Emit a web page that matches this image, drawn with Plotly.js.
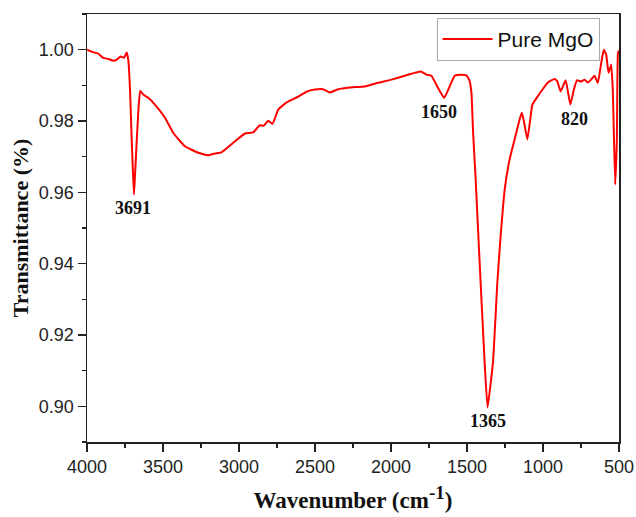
<!DOCTYPE html>
<html>
<head>
<meta charset="utf-8">
<script src="https://cdn.plot.ly/plotly-3.0.1.min.js"></script>
<style>
  html, body { margin: 0; padding: 0; background: #fff; }
  #chart { width: 636px; height: 517px; }
</style>
</head>
<body>
<div id="chart"></div>
<script>
// FTIR spectrum of pure MgO
const wavenumber = [
  4000, 3960, 3926, 3893, 3860, 3827, 3805, 3779, 3757, 3739, 3728, 3717, 3706, 3697, 3691,
  3685, 3678, 3663, 3650, 3630, 3597, 3553, 3487, 3433, 3356, 3268, 3203, 3159, 3115, 3038,
  2961, 2907, 2863, 2837, 2808, 2779, 2742, 2687, 2611, 2556, 2501, 2447, 2403, 2348, 2271,
  2173, 2085, 1997, 1910, 1844, 1804, 1767, 1734, 1691, 1650, 1614, 1581, 1537, 1504, 1485,
  1471, 1460, 1450, 1443, 1417, 1384, 1365, 1329, 1300, 1280, 1252, 1220, 1187, 1154, 1139,
  1126, 1103, 1084, 1070, 1022, 968, 924, 906, 884, 851, 820, 797, 777, 748, 727,
  705, 683, 661, 639, 617, 600, 584, 569, 551, 541, 525, 514, 507, 500
];
const transmittance = [
  1.0000, 0.9993, 0.9989, 0.9977, 0.9974, 0.9969, 0.9972, 0.9981, 0.9977, 0.9992, 0.9970, 0.9888, 0.9748, 0.9650, 0.9594,
  0.9640, 0.9700, 0.9823, 0.9885, 0.9874, 0.9865, 0.9846, 0.9809, 0.9767, 0.9729, 0.9711, 0.9704, 0.9709, 0.9712, 0.9739,
  0.9765, 0.9768, 0.9788, 0.9787, 0.9801, 0.9792, 0.9832, 0.9852, 0.9868, 0.9882, 0.9888, 0.9889, 0.9880, 0.9889, 0.9894,
  0.9897, 0.9907, 0.9916, 0.9927, 0.9935, 0.9939, 0.9930, 0.9927, 0.9893, 0.9865, 0.9897, 0.9927, 0.9930, 0.9928, 0.9915,
  0.9880, 0.9770, 0.9690, 0.9636, 0.9404, 0.9124, 0.8997, 0.9124, 0.9350, 0.9470, 0.9608, 0.9692, 0.9748, 0.9804, 0.9823,
  0.9800, 0.9748, 0.9804, 0.9846, 0.9877, 0.9908, 0.9918, 0.9911, 0.9883, 0.9914, 0.9846, 0.9888, 0.9914, 0.9911, 0.9916,
  0.9908, 0.9916, 0.9927, 0.9907, 0.9963, 1.0000, 0.9986, 0.9935, 0.9958, 0.9888, 0.9622, 0.9748, 0.9990, 0.9998
];

// Marked absorption bands
const peakWavenumbers = [3691, 1650, 1365, 820];
const seriesName = 'Pure MgO';

// small horizontal nudges (px) for each band label
const labelNudge = { 3691: -1, 1650: -5, 1365: 0, 820: 4 };

const serifBold = { family: 'Liberation Serif, Times New Roman, serif', color: '#111', weight: 'bold' };

const annotations = peakWavenumbers.map(wn => {
  const i = wavenumber.indexOf(wn);
  return {
    x: wn, y: transmittance[i], xref: 'x', yref: 'y',
    text: String(wn), showarrow: false,
    xanchor: 'center', yanchor: 'middle',
    xshift: labelNudge[wn], yshift: -14,
    font: Object.assign({ size: 18 }, serifBold)
  };
});

const trace = {
  x: wavenumber, y: transmittance, type: 'scatter', mode: 'lines',
  name: seriesName,
  line: { color: '#ff0000', width: 2, shape: 'spline', smoothing: 0.35 }
};

const axisFont = { family: 'Liberation Sans, Arial, sans-serif', size: 18, color: '#222' };

const layout = {
  width: 636, height: 517,
  margin: { l: 87, r: 16.5, t: 14, b: 75 },
  paper_bgcolor: '#fff', plot_bgcolor: '#fff',
  showlegend: true,
  legend: {
    x: 0.657, y: 0.991, xanchor: 'left', yanchor: 'top',
    bgcolor: '#fff', bordercolor: '#aaa', borderwidth: 1,
    font: { family: 'Liberation Sans, Arial, sans-serif', size: 21, color: '#111' },
    itemwidth: 50
  },
  xaxis: {
    range: [4000, 500], dtick: 500, tick0: 500,
    showgrid: false, zeroline: false,
    showline: true, linecolor: '#222', linewidth: 1.5, mirror: true,
    ticks: 'outside', ticklen: 8, tickwidth: 1.5, tickcolor: '#222',
    minor: { dtick: 250, ticks: 'outside', ticklen: 4, tickwidth: 1.5, tickcolor: '#222' },
    tickfont: axisFont,
    title: {
      text: 'Wavenumber (cm<sup><span style="font-size:19px">-1</span></sup>)',
      font: Object.assign({ size: 23 }, serifBold),
      standoff: 16
    }
  },
  yaxis: {
    range: [0.89, 1.01], dtick: 0.02, tick0: 0.9, tickformat: '.2f',
    showgrid: false, zeroline: false,
    showline: true, linecolor: '#222', linewidth: 1.5, mirror: true,
    ticks: 'outside', ticklen: 8, tickwidth: 1.5, tickcolor: '#222',
    minor: { dtick: 0.01, ticks: 'outside', ticklen: 4, tickwidth: 1.5, tickcolor: '#222' },
    tickfont: axisFont,
    title: {
      text: 'Transmittance (%)',
      font: Object.assign({ size: 22 }, serifBold),
      standoff: 4
    }
  },
  annotations: annotations
};

Plotly.newPlot('chart', [trace], layout, { staticPlot: true, displayModeBar: false });
</script>
</body>
</html>
